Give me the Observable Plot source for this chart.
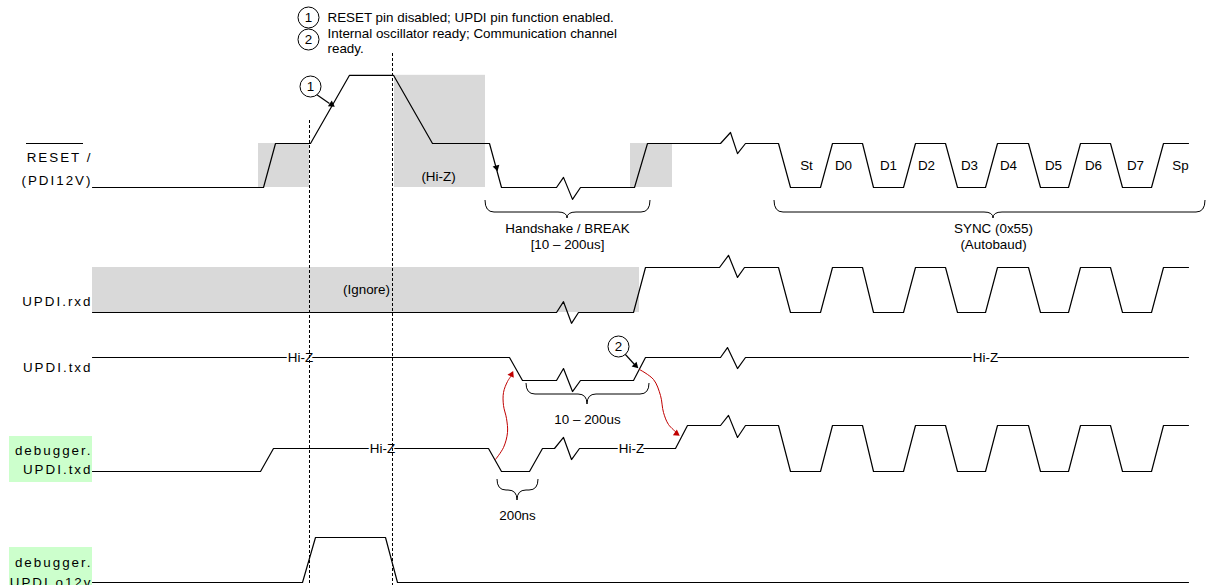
<!DOCTYPE html>
<html><head><meta charset="utf-8">
<script src="https://cdn.jsdelivr.net/npm/d3@7"></script>
<script src="https://cdn.jsdelivr.net/npm/@observablehq/plot@0.6"></script>
<style>
body{margin:0;background:#fff;}
#chart svg{display:block;}
</style></head><body><div id="chart"></div>
<script>
// ---------- DATA ----------
const lanes = ["RESET", "UPDI.rxd", "UPDI.txd", "debugger.UPDI.txd", "debugger.UPDI.o12v"];
const laneLabelLines = ["RESET /", "(PDI12V)", "UPDI.rxd", "UPDI.txd", "debugger.", "UPDI.txd", "debugger.", "UPDI.o12v"];
const laneLabelLane = ["RESET", "RESET", "UPDI.rxd", "UPDI.txd", "debugger.UPDI.txd", "debugger.UPDI.txd", "debugger.UPDI.o12v", "debugger.UPDI.o12v"];

// SYNC (0x55) frame, shared by RESET, UPDI.rxd, debugger.UPDI.txd  (time, logic level)
const syncT = [778, 790, 820, 832, 862, 873, 903, 915, 945, 957, 985, 997, 1028, 1040, 1068, 1080, 1110, 1122, 1151, 1163, 1188];
const syncL = [1, 0, 0, 1, 1, 0, 0, 1, 1, 0, 0, 1, 1, 0, 0, 1, 1, 0, 0, 1, 1];
const bitLabels = ["St", "D0", "D1", "D2", "D3", "D4", "D5", "D6", "D7", "Sp"];
const bitT = [806, 843, 888, 926, 969, 1008, 1053, 1093, 1135, 1180];

const resetT = [92, 263, 275, 310, 349, 393, 432, 489, 501, 556, 563, 572, 580, 634, 647, 720, 730, 737, 745];
const resetL = [0, 0, 1, 1, 2.55, 2.55, 1, 1, 0, 0, 0.23, -0.27, 0, 0, 1, 1, 1.25, 0.77, 1];
const rxdT = [92, 556, 563, 571, 578, 633, 645, 719, 728, 737, 744];
const rxdL = [0, 0, 0.24, -0.24, 0, 0, 1, 1, 1.27, 0.78, 1];
const txdT = [92, 509, 522, 556, 563, 572, 580, 633, 645, 720, 727, 737, 745, 1188];
const txdL = [1, 1, 0, 0, 0.52, -0.48, 0, 0, 1, 1, 1.43, 0.52, 1, 1];
const dbgTxdT = [92, 260, 273, 488, 501, 529, 542, 554, 563, 571, 579, 675, 687, 720, 728, 737, 745];
const dbgTxdL = [0, 0, 0.5, 0.5, 0, 0, 0.5, 0.5, 0.74, 0.26, 0.5, 0.5, 1, 1, 1.22, 0.74, 1];
const o12vT = [92, 302, 315, 385, 397, 1188];
const o12vL = [0, 0, 1, 1, 0, 0];

// shaded (don't care / Hi-Z) regions
const shadeLane = ["RESET", "RESET", "RESET", "UPDI.rxd"];
const shadeT1 = [258, 394, 630, 92];
const shadeT2 = [309, 485, 672, 639];
const shadeHi = [1, 2.55, 1, 1];

// state notes on waveforms
const stateText = ["(Hi-Z)", "(Ignore)", "Hi-Z", "Hi-Z", "Hi-Z", "Hi-Z"];
const stateLane = ["RESET", "UPDI.rxd", "UPDI.txd", "UPDI.txd", "debugger.UPDI.txd", "debugger.UPDI.txd"];
const stateT = [438, 366, 300, 985, 382, 631];
const stateLevel = [0.25, 0.5, 1, 1, 0.5, 0.5];
const stateHalo = [false, false, true, true, true, true];

// braces (durations)
const braceText = ["Handshake / BREAK\n[10 – 200us]", "SYNC (0x55)\n(Autobaud)", "10 – 200us", "200ns"];
const braceT1 = [485, 774, 526, 497];
const braceT2 = [650, 1205, 649, 538];
const braceTip = [567, 993, 587, 517];

// event markers (dashed)
const markerT = [309, 392];

// notes legend
const noteNums = ["1", "2"];
const noteLines = ["RESET pin disabled; UPDI pin function enabled.", "Internal oscillator ready; Communication channel", "ready."];

// ---------- LAYOUT ----------
const geom = {
  "RESET": {base: 187, amp: 44},
  "UPDI.rxd": {base: 312, amp: 45},
  "UPDI.txd": {base: 380, amp: 23},
  "debugger.UPDI.txd": {base: 471, amp: 46},
  "debugger.UPDI.o12v": {base: 582, amp: 45}
};
const yOf = (lane, lvl) => geom[lane].base - lvl * geom[lane].amp;
const labelY = [157, 180, 301, 367, 450, 469, 562, 582];
const braceTop = [200, 200, 383, 479], braceH = [12, 12, 11, 11], braceTipH = [6, 6, 10, 10];
const braceTextY = [226, 226, 417, 513];
const markerTop = [120, 53];
const circleX = [308, 308, 310, 618], circleY = [17, 39, 86, 346], circleNum = ["1", "2", "1", "2"];
const noteY = [17, 33, 48];
const FONT = "'Liberation Sans', Arial, Helvetica, sans-serif";
const FS = 13.4;

// ---------- BUILD ----------
const waves = [
  ["RESET", resetT.concat(syncT), resetL.concat(syncL)],
  ["UPDI.rxd", rxdT.concat(syncT), rxdL.concat(syncL)],
  ["UPDI.txd", txdT, txdL],
  ["debugger.UPDI.txd", dbgTxdT.concat(syncT), dbgTxdL.concat(syncL)],
  ["debugger.UPDI.o12v", o12vT, o12vL]
];
const wavePts = waves.flatMap(([lane, T, L]) => T.map((t, i) => ({lane, t, y: yOf(lane, L[i])})));
const shades = shadeLane.map((lane, i) => ({x1: shadeT1[i], x2: shadeT2[i], y1: yOf(lane, shadeHi[i]), y2: yOf(lane, 0)}));
const states = stateText.map((s, i) => ({s, x: stateT[i], y: yOf(stateLane[i], stateLevel[i]), halo: stateHalo[i]}));
const bits = bitLabels.map((s, i) => ({s, x: bitT[i], y: yOf("RESET", 0.5)}));
const labels = laneLabelLines.map((s, i) => ({s, y: labelY[i]}));
const greenBoxes = [
  {y1: 436, y2: 482},
  {y1: 547, y2: 590}
];
const braces = braceText.map((s, i) => ({s, x: braceTip[i], y: braceTextY[i] - 4.8}));

const braceMark = (index, scales) => {
  const sx = typeof scales.x === "function" ? scales.x : v => v;
  const sy = typeof scales.y === "function" ? scales.y : v => v;
  const g = d3.create("svg:g").attr("fill", "none").attr("stroke", "#000").attr("stroke-width", 1);
  braceT1.forEach((_, i) => {
    const x1 = sx(braceT1[i]), x2 = sx(braceT2[i]), xm = sx(braceTip[i]);
    const y0 = sy(braceTop[i]), y1 = sy(braceTop[i] + braceH[i]), y2 = sy(braceTop[i] + braceH[i] + braceTipH[i]);
    const r = 9;
    const p = d3.path();
    p.moveTo(x1, y0); p.quadraticCurveTo(x1, y1, x1 + r, y1); p.lineTo(xm - r, y1);
    p.quadraticCurveTo(xm, y1, xm, y2); p.quadraticCurveTo(xm, y1, xm + r, y1);
    p.lineTo(x2 - r, y1); p.quadraticCurveTo(x2, y1, x2, y0);
    g.append("path").attr("d", p.toString());
  });
  return g.node();
};

const red1 = [[495, 459], [503, 447], [507, 432], [506, 418], [503, 405], [503, 392], [507, 381], [511, 375]].map(([t, y]) => ({t, y}));
const red2 = [[639, 369], [653, 379], [660, 395], [663, 412], [668, 424], [676, 432]].map(([t, y]) => ({t, y}));
const heads = [
  {x: 331, y: 104, a: 124, c: "#000"},
  {x: 635, y: 365, a: 135, c: "#000"},
  {x: 496, y: 167, a: 165, c: "#000"},
  {x: 511, y: 374, a: 25, c: "#c00000"},
  {x: 676, y: 433, a: 125, c: "#c00000"}
];
const pointers = [{x1: 316, y1: 94, x2: 329, y2: 103}, {x1: 624, y1: 353, x2: 634, y2: 364}];

const chart = Plot.plot({
  width: 1207, height: 585,
  marginTop: 0, marginRight: 0, marginBottom: 0, marginLeft: 0,
  x: {domain: [0, 1207], range: [0, 1207], axis: null},
  y: {domain: [0, 585], range: [0, 585], axis: null},
  style: {fontFamily: FONT, fontSize: FS + "px", background: "#fff", color: "#000"},
  marks: [
    Plot.rect(shades, {x1: "x1", x2: "x2", y1: "y1", y2: "y2", fill: "#d9d9d9"}),
    Plot.rect(greenBoxes, {x1: 9, x2: 92, y1: "y1", y2: "y2", fill: "#ccffcc"}),
    Plot.line(wavePts, {x: "t", y: "y", z: "lane", stroke: "#000", strokeWidth: 1.2, curve: "linear"}),
    braceMark,
    Plot.text(states.filter(d => d.halo), {x: "x", y: "y", text: "s", fill: "#000", stroke: "#fff", strokeWidth: 4, paintOrder: "stroke", fontSize: FS}),
    Plot.text(states.filter(d => !d.halo), {x: "x", y: "y", text: "s", fill: "#000", fontSize: FS}),
    Plot.text(bits, {x: "x", y: "y", text: "s", fill: "#000", fontSize: FS}),
    Plot.text(braces, {x: "x", y: "y", text: "s", lineAnchor: "top", lineHeight: 1.2, fill: "#000", fontSize: FS}),
    Plot.text(labels, {x: 92, y: "y", text: "s", textAnchor: "end", fill: "#000", fontSize: FS}),
    Plot.ruleY([yOf("RESET", 1)], {x1: 26, x2: 83, stroke: "#000", strokeWidth: 1}),
    Plot.ruleX(markerT, {x: d => d, y1: (d, i) => markerTop[i], y2: 585, stroke: "#000", strokeWidth: 1, strokeDasharray: "3,2"}),
    Plot.line(red1, {x: "t", y: "y", stroke: "#c00000", strokeWidth: 1, curve: "catmull-rom"}),
    Plot.line(red2, {x: "t", y: "y", stroke: "#c00000", strokeWidth: 1, curve: "catmull-rom"}),
    Plot.link(pointers, {x1: "x1", y1: "y1", x2: "x2", y2: "y2", stroke: "#000", strokeWidth: 1.2}),
    Plot.dot(heads, {x: "x", y: "y", symbol: "triangle2", r: 3.3, fill: "c", rotate: "a", stroke: null}),
    Plot.dot(circleNum.map((s, i) => ({s, x: circleX[i], y: circleY[i]})), {x: "x", y: "y", r: 10.5, fill: "#fff", stroke: "#000", strokeWidth: 1}),
    Plot.text(circleNum.map((s, i) => ({s, x: circleX[i], y: circleY[i]})), {x: "x", y: "y", text: "s", fill: "#000", fontSize: FS}),
    Plot.text(noteLines.map((s, i) => ({s, y: noteY[i]})), {x: 327, y: "y", text: "s", textAnchor: "start", fill: "#000", fontSize: FS})
  ]
});
// the lane labels are letter-spaced in the reference
const labelSet = new Set(laneLabelLines);
chart.querySelectorAll("text").forEach(t => {
  const tf = t.getAttribute("transform") || "";
  const x = +(t.getAttribute("x") || 0);
  if (labelSet.has(t.textContent) && (x < 100 || /^translate\(9[0-9.]*,/.test(tf))) t.style.letterSpacing = "2px";
});
document.getElementById("chart").appendChild(chart);
</script></body></html>
